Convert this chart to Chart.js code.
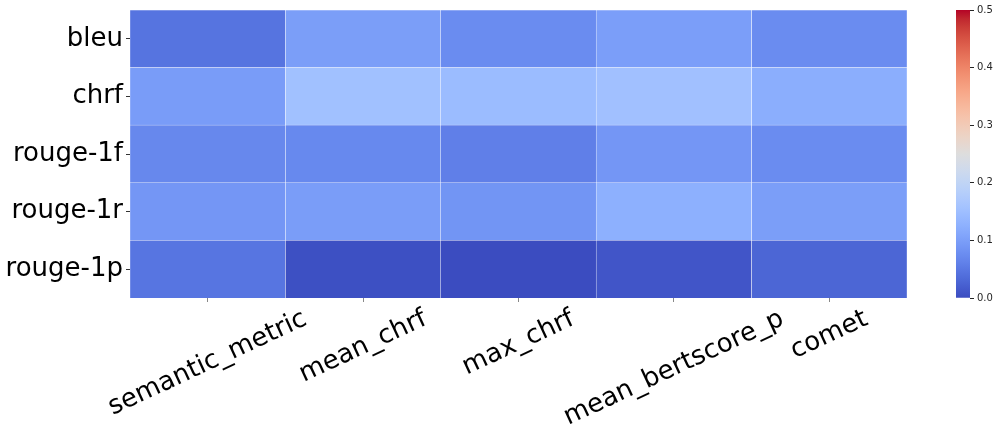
<!DOCTYPE html>
<html>
<head>
<meta charset="utf-8">
<script src="https://cdn.jsdelivr.net/npm/chart.js@4/dist/chart.umd.min.js"></script>
<style>
  html, body { margin: 0; padding: 0; background: #fff; }
  #main { position: absolute; left: 0; top: 0; width: 997px; height: 437px; }
  #bar { position: absolute; left: 940px; top: 0; width: 57px; height: 437px; }
</style>
</head>
<body>
<div id="main"><canvas id="heatmap"></canvas></div>
<div id="bar"><canvas id="colorbar"></canvas></div>
<script>
const ROWS = ["bleu", "chrf", "rouge-1f", "rouge-1r", "rouge-1p"]
const COLUMNS = ["semantic_metric", "mean_chrf", "max_chrf", "mean_bertscore_p", "comet"]

// one array per row, columns in COLUMNS order
const BLEU = [0.046, 0.099, 0.075, 0.100, 0.075]
const CHRF = [0.097, 0.154, 0.145, 0.153, 0.122]
const ROUGE_1F = [0.070, 0.071, 0.059, 0.089, 0.075]
const ROUGE_1R = [0.089, 0.098, 0.087, 0.125, 0.099]
const ROUGE_1P = [0.047, 0.004, 0.000, 0.010, 0.029]
const VALUES = [BLEU, CHRF, ROUGE_1F, ROUGE_1R, ROUGE_1P]

const VMIN = 0
const VMAX = 0.5
const CBAR_TICKS = [0, 0.1, 0.2, 0.3, 0.4, 0.5]

// matplotlib coolwarm (Moreland diverging map), 33 steps
const COOLWARM = [
  [59, 76, 192], [68, 90, 204], [77, 104, 215], [87, 117, 225], [98, 130, 234],
  [108, 142, 241], [119, 154, 247], [130, 165, 251], [141, 176, 254], [152, 185, 255],
  [163, 194, 255], [174, 201, 253], [184, 208, 249], [194, 213, 244], [204, 217, 238],
  [213, 219, 230], [221, 221, 221], [229, 216, 209], [236, 211, 197], [241, 204, 185],
  [245, 196, 173], [247, 187, 160], [247, 177, 148], [247, 166, 135], [244, 154, 123],
  [241, 141, 111], [236, 127, 99], [229, 112, 88], [222, 96, 77], [213, 80, 66],
  [203, 62, 56], [192, 40, 47], [180, 4, 38]
]

function coolwarm(v) {
  let t = (v - VMIN) / (VMAX - VMIN)
  t = Math.min(1, Math.max(0, t)) * (COOLWARM.length - 1)
  const i = Math.min(COOLWARM.length - 2, Math.floor(t))
  const f = t - i
  const a = COOLWARM[i], b = COOLWARM[i + 1]
  const c = a.map((x, k) => Math.round(x + (b[k] - x) * f))
  return `rgb(${c[0]},${c[1]},${c[2]})`
}

const FONT = '"DejaVu Sans", sans-serif'

// stacked from the bottom: last row first
const datasets = ROWS.map((name, r) => ({
  label: name,
  data: COLUMNS.map(() => 1),
  backgroundColor: VALUES[r].map(coolwarm),
  borderColor: "rgba(255,255,255,0.85)",
  borderWidth: 0.5,
  barPercentage: 1,
  categoryPercentage: 1
})).reverse()

const rotatedLabels = {
  id: "rotatedLabels",
  afterDraw(chart) {
    const { ctx, chartArea } = chart
    const x = chart.scales.x
    const a = 25 * Math.PI / 180
    const h = 26
    ctx.save()
    ctx.font = "26px " + FONT
    ctx.fillStyle = "#000"
    ctx.textAlign = "center"
    ctx.textBaseline = "middle"
    COLUMNS.forEach((label, i) => {
      const w = ctx.measureText(label).width
      const boxH = w * Math.sin(a) + h * Math.cos(a)
      ctx.save()
      ctx.translate(x.getPixelForTick(i), chartArea.bottom + 8 + boxH / 2)
      ctx.rotate(-a)
      ctx.fillText(label, 0, 0)
      ctx.restore()
    })
    ctx.restore()
  }
}

new Chart(document.getElementById("heatmap"), {
  type: "bar",
  data: { labels: COLUMNS, datasets },
  plugins: [rotatedLabels],
  options: {
    responsive: true,
    maintainAspectRatio: false,
    animation: false,
    layout: { padding: { top: 10, right: 90, left: 0, bottom: 0 } },
    plugins: { legend: { display: false }, tooltip: { enabled: false } },
    scales: {
      x: {
        stacked: true,
        border: { display: false },
        grid: { offset: false, drawOnChartArea: false, tickLength: 4, color: "#888" },
        ticks: { display: false },
        afterFit: s => { s.height = 139; s.paddingLeft = 0; s.paddingRight = 0 }
      },
      y: {
        stacked: true,
        min: 0,
        max: ROWS.length,
        border: { display: false },
        grid: { drawOnChartArea: false, tickLength: 4, color: "#333" },
        afterBuildTicks: s => {
          s.ticks = ROWS.map((_, r) => ({ value: ROWS.length - r - 0.5 }))
        },
        afterFit: s => { s.width = 130; s.paddingTop = 0; s.paddingBottom = 0 },
        ticks: {
          padding: 3,
          color: "#000",
          font: { family: FONT, size: 26 },
          callback: v => ROWS[ROWS.length - 1 - Math.floor(v)]
        }
      }
    }
  }
})

new Chart(document.getElementById("colorbar"), {
  type: "bar",
  data: {
    labels: [""],
    datasets: [{
      data: [[VMIN, VMAX]],
      barPercentage: 1,
      categoryPercentage: 1,
      borderWidth: 0,
      backgroundColor: ctx => {
        const area = ctx.chart.chartArea
        if (!area) return COOLWARM[0]
        const g = ctx.chart.ctx.createLinearGradient(0, area.bottom, 0, area.top)
        COOLWARM.forEach((c, i) => {
          g.addColorStop(i / (COOLWARM.length - 1), `rgb(${c[0]},${c[1]},${c[2]})`)
        })
        return g
      }
    }]
  },
  options: {
    responsive: true,
    maintainAspectRatio: false,
    animation: false,
    layout: { padding: { top: 10, bottom: 139, left: 16, right: 0 } },
    plugins: { legend: { display: false }, tooltip: { enabled: false } },
    scales: {
      x: { display: false },
      y: {
        position: "right",
        min: VMIN,
        max: VMAX,
        border: { display: false },
        grid: { drawOnChartArea: false, tickLength: 4, color: "#262626" },
        afterBuildTicks: s => { s.ticks = CBAR_TICKS.map(v => ({ value: v })) },
        afterFit: s => { s.width = 27 },
        ticks: {
          padding: 3,
          color: "#262626",
          font: { family: FONT, size: 10 },
          callback: v => v.toFixed(1)
        }
      }
    }
  }
})
</script>
</body>
</html>
